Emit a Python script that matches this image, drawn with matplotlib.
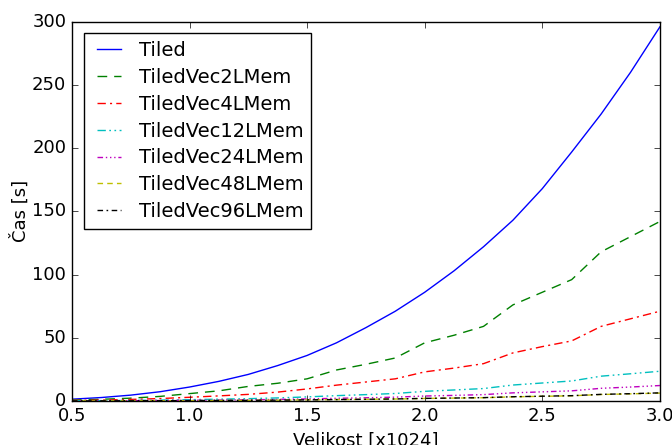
import matplotlib
matplotlib.use('Agg')
import matplotlib.pyplot as plt

plt.style.use('classic')
plt.rcParams['figure.facecolor'] = 'white'
plt.rcParams['savefig.facecolor'] = 'white'
plt.rcParams['font.size'] = 13

# velikost [x1024], krok 128
sizes = [0.5, 0.625, 0.75, 0.875, 1.0, 1.125, 1.25, 1.375, 1.5, 1.625, 1.75,
         1.875, 2.0, 2.125, 2.25, 2.375, 2.5, 2.625, 2.75, 2.875, 3.0]

tiled = [1.4, 2.7, 4.6, 7.3, 11, 15.5, 21, 28, 36, 46, 58,
         71, 86, 103, 122, 143, 168, 197, 227, 260, 296]
vec2 = [0.7, 1.3, 2.2, 3.6, 5.8, 8, 11.5, 14, 17.5, 24.5, 29,
        34, 46, 52, 59, 76, 86, 96, 118, 130, 142]
vec4 = [0.4, 0.7, 1.2, 1.9, 2.9, 4.0, 5.2, 7.0, 9.5, 12.5, 15,
        17.5, 23, 26, 29.5, 38, 43, 47.5, 59, 65, 71]
vec12 = [0.15, 0.25, 0.4, 0.65, 1.0, 1.4, 1.8, 2.4, 3.2, 4.2, 5.0,
         5.9, 7.6, 8.7, 9.8, 12.6, 14.2, 15.8, 19.6, 21.5, 23.5]
vec24 = [0.08, 0.13, 0.2, 0.33, 0.5, 0.7, 0.9, 1.2, 1.6, 2.1, 2.5,
         3.0, 3.9, 4.4, 5.0, 6.4, 7.2, 8.0, 10.0, 11.0, 12.2]
vec48 = [0.05, 0.07, 0.1, 0.17, 0.26, 0.36, 0.47, 0.62, 0.82, 1.07, 1.28,
         1.53, 1.98, 2.25, 2.55, 3.25, 3.66, 4.07, 5.1, 5.6, 6.2]
vec96 = [0.05, 0.08, 0.11, 0.18, 0.27, 0.37, 0.49, 0.64, 0.85, 1.1, 1.32,
         1.58, 2.03, 2.3, 2.62, 3.33, 3.75, 4.17, 5.2, 5.75, 6.4]

series = [
    ('Tiled', tiled, 'b', '-'),
    ('TiledVec2LMem', vec2, 'g', (0, (7, 5))),
    ('TiledVec4LMem', vec4, 'r', (0, (6, 3, 1.5, 3))),
    ('TiledVec12LMem', vec12, 'c', (0, (6, 2.5, 1.2, 2.5, 1.2, 2.5))),
    ('TiledVec24LMem', vec24, 'm', (0, (4, 2, 1, 2, 1, 2, 1, 2))),
    ('TiledVec48LMem', vec48, 'y', (0, (4, 3))),
    ('TiledVec96LMem', vec96, 'k', (0, (4, 2.5, 1.2, 2.5))),
]

fig = plt.figure(figsize=(6.72, 4.45), dpi=100)
ax = fig.add_axes([0.107, 0.099, 0.875, 0.852])

for name, vals, col, ls in series:
    ax.plot(sizes, vals, color=col, linestyle=ls, linewidth=1, label=name)

ax.set_xlim(0.5, 3.0)
ax.set_ylim(0, 300)
ax.set_xlabel('Velikost [x1024]')
ax.set_ylabel('Čas [s]', labelpad=2)
ax.legend(loc='upper left', fontsize=14, handlelength=1.85,
          handletextpad=0.6, labelspacing=0.4, borderaxespad=0.6)

fig.savefig('out.png', dpi=100)
